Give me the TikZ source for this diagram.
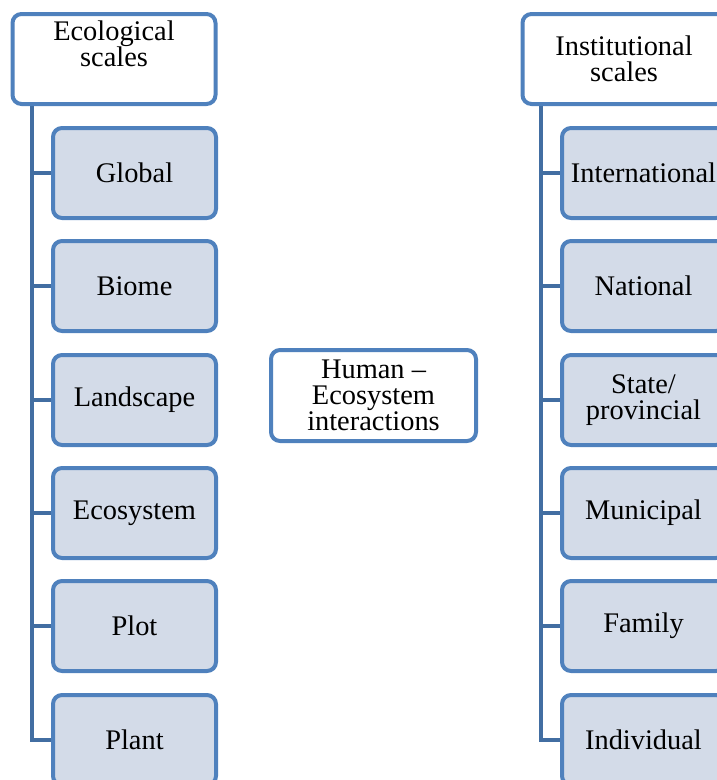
\documentclass[tikz,border=0pt]{standalone}
\usepackage{fontspec}
\setmainfont{Liberation Serif}
\usetikzlibrary{backgrounds}
\definecolor{bordercol}{HTML}{4F81BD}
\definecolor{childfill}{HTML}{D3DBE8}
\definecolor{linecol}{HTML}{426EA2}
\begin{document}
\begin{tikzpicture}[x=1pt,y=-1pt,
  box/.style={draw=bordercol, line width=4pt, rounded corners=9pt, align=center,
    font=\fontsize{28.4}{26}\selectfont, inner sep=0pt},
  head/.style={box, fill=white, minimum width=203pt, minimum height=90pt},
  child/.style={box, fill=childfill, minimum width=163pt, minimum height=90pt},
  conn/.style={draw=linecol, line width=4pt}]
\useasboundingbox (0,0) rectangle (716,780);
% headers
\node[head, text height=46pt, text depth=32pt] (ecoH) at (114,59) {Ecological\\scales};
\node[head] (instH) at (624,59) {Institutional\\scales};
\node[head, minimum width=205pt, minimum height=91pt] (hum) at (373.5,395.5) {Human --\\Ecosystem\\interactions};
% left children
\node[child] (global) at (134.5,173) {Global};
\node[child] (biome) at (134.5,286) {Biome};
\node[child] (landscape) at (134.5,400) {Landscape};
\node[child] (ecosystem) at (134.5,513) {Ecosystem};
\node[child] (plot) at (134.5,626) {Plot};
\node[child] (plant) at (134.5,740) {Plant};
% right children
\node[child] (internat) at (643.5,173) {International};
\node[child] (national) at (643.5,286) {National};
\node[child] (state) at (643.5,400) {State/\\provincial};
\node[child] (municipal) at (643.5,513) {Municipal};
\node[child] (family) at (643.5,626) {Family};
\node[child] (individual) at (643.5,740) {Individual};
\begin{scope}[on background layer]
  \coordinate (ltrunk) at ([xshift=21pt]ecoH.south west);
  \coordinate (rtrunk) at ([xshift=20pt]instH.south west);
  \draw[conn] (ltrunk) |- (plant.west);
  \foreach \n in {global,biome,landscape,ecosystem,plot}
    \draw[conn] (\n.west) -- (\n.west -| ltrunk);
  \draw[conn] (rtrunk) |- (individual.west);
  \foreach \n in {internat,national,state,municipal,family}
    \draw[conn] (\n.west) -- (\n.west -| rtrunk);
\end{scope}
\end{tikzpicture}
\end{document}
